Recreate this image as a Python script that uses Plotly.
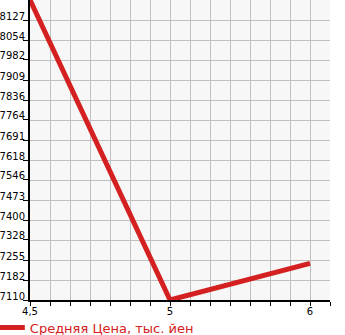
import plotly.graph_objects as go

categories = ["4,5", "5", "6"]
avg_price = [8200, 7110, 7243]
y_ticks = [7110, 7182, 7255, 7328, 7400, 7473, 7546, 7618, 7691, 7764, 7836, 7909, 7982, 8054, 8127]
series_name = "Средняя Цена, тыс. йен"

x_idx = list(range(len(categories)))
step = (y_ticks[-1] - y_ticks[0]) / (len(y_ticks) - 1)

fig = go.Figure()
fig.add_trace(go.Scatter(
    x=x_idx, y=avg_price, mode="lines", name=series_name,
    line=dict(color="#d42020", width=5), showlegend=True,
))

fig.update_layout(
    width=345, height=335,
    margin=dict(l=30, r=15, t=0, b=35, autoexpand=False),
    paper_bgcolor="white", plot_bgcolor="#f7f7f7",
    font=dict(family="DejaVu Sans", size=10, color="black"),
    showlegend=True,
    legend=dict(orientation="h", x=-0.134, xanchor="left", y=-0.042, yanchor="top",
                font=dict(size=13, color="#d42020"), itemwidth=30,
                bgcolor="rgba(0,0,0,0)"),
    xaxis=dict(
        range=[0, 2 + 1/7], tickvals=x_idx, ticktext=categories,
        showgrid=False, zeroline=False, automargin=False,
        showline=True, linecolor="black", linewidth=2,
        ticks="outside", ticklen=1, tickcolor="black",
        minor=dict(dtick=1/7, tick0=0, showgrid=True, gridcolor="#c0c0c0", gridwidth=1,
                   ticks="outside", ticklen=4, tickcolor="black"),
        fixedrange=True,
    ),
    yaxis=dict(
        range=[y_ticks[0], y_ticks[-1] + step], tickvals=y_ticks,
        showgrid=False, zeroline=False, automargin=False,
        showline=True, linecolor="black", linewidth=2,
        ticks="outside", ticklen=5, tickcolor="black",
        ticklabelshift=-4, ticklabelstandoff=-4,
        minor=dict(dtick=step, tick0=y_ticks[0], showgrid=True, gridcolor="#c0c0c0", gridwidth=1),
        fixedrange=True,
    ),
)

fig.write_html("out.html")
